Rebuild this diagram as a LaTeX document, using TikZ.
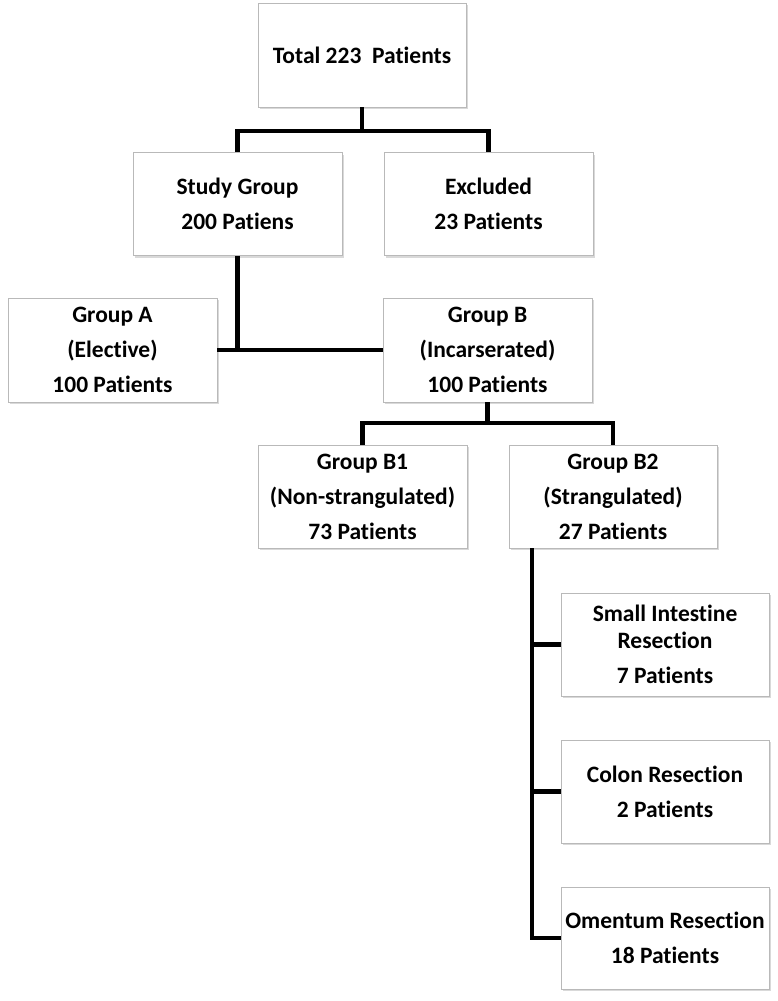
\documentclass[tikz,border=0pt]{standalone}
\usepackage{fontspec}
\setmainfont[Ligatures=NoCommon]{Carlito}
\usetikzlibrary{positioning, shadows}

\begin{document}
\begin{tikzpicture}[x=1pt, y=-1pt,
  box/.style={draw=gray!55, fill=white, line width=0.9pt, minimum width=209pt, minimum height=103pt, inner sep=0pt, align=center,
    font=\bfseries\fontsize{23.5}{27}\selectfont, drop shadow={opacity=0.3, shadow xshift=1.5pt, shadow yshift=-2pt}},
  link/.style={line width=4.6pt}]
\useasboundingbox (0, 0) rectangle (777, 1001);
\node[box, minimum width=208pt, minimum height=104pt] (total) at (362, 55) {Total 223\ \ Patients};
\node[box] (study) at (237.5, 204) {Study Group\\[8pt]200 Patiens};
\node[box] (excl) at (488.5, 204) {Excluded\\[8pt]23 Patients};
\node[box, minimum height=104pt] (grpA) at (112.5, 350) {Group A\\[8pt](Elective)\\[8pt]100 Patients};
\node[box, minimum height=104pt] (grpB) at (487.5, 350) {Group B\\[8pt](Incarserated)\\[8pt]100 Patients};
\node[box] (grpB1) at (362.5, 496.5) {Group B1\\[8pt](Non-strangulated)\\[8pt]73 Patients};
\node[box, minimum width=208pt] (grpB2) at (613, 496.5) {Group B2\\[8pt](Strangulated)\\[8pt]27 Patients};
\node[box, minimum width=208pt] (small) at (665, 644.5) {Small Intestine\\Resection\\[8pt]7 Patients};
\node[box, minimum width=208pt] (colon) at (665, 791.5) {Colon Resection\\[8pt]2 Patients};
\node[box, minimum width=208pt, minimum height=102pt] (omentum) at (665, 938) {Omentum Resection\\[8pt]18 Patients};

\coordinate (jTop) at (362, 131);
\coordinate (jB) at (487.5, 423);
\coordinate (trunk) at ([xshift=23.5]grpB2.south west);

\draw[link] (total.south) -- (jTop);
\draw[link] (study.north) -- (study.north |- jTop) -- (excl.north |- jTop) -- (excl.north);
\draw[link] (study.south) -- (study.south |- grpA.east);
\draw[link] (grpA.east) -- (grpB.west);
\draw[link] (grpB.south) -- (jB);
\draw[link] (grpB1.north) -- (grpB1.north |- jB) -- (grpB2.north |- jB) -- (grpB2.north);
\draw[link] (trunk) -- (trunk |- omentum.west) -- (omentum.west);
\draw[link] (small.west) -- (small.west -| trunk);
\draw[link] (colon.west) -- (colon.west -| trunk);
\end{tikzpicture}
\end{document}
